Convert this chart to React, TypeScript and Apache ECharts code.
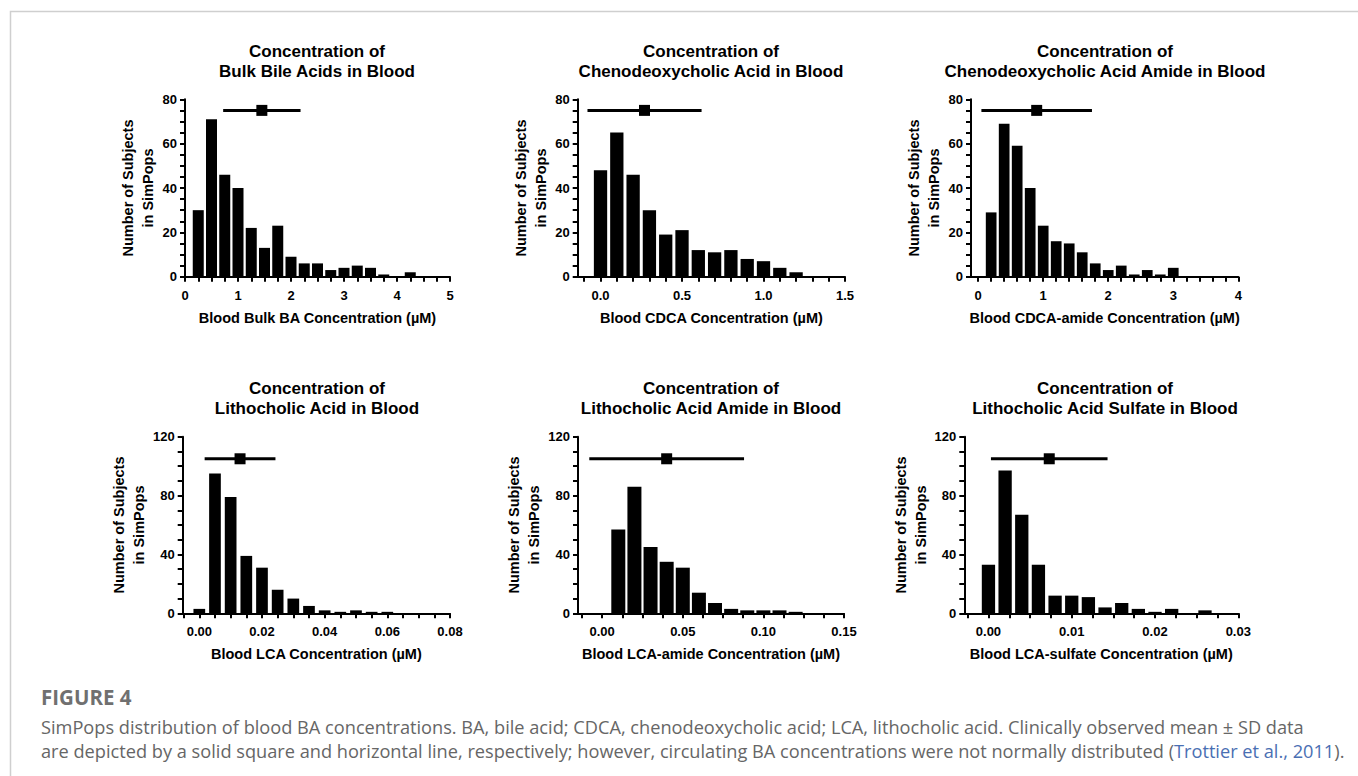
import React, { useEffect, useRef } from "react";
import * as echarts from "echarts";

// ---------- Data ----------
const TITLES = [
  "Concentration of\nBulk Bile Acids in Blood",
  "Concentration of\nChenodeoxycholic Acid in Blood",
  "Concentration of\nChenodeoxycholic Acid Amide in Blood",
  "Concentration of\nLithocholic Acid in Blood",
  "Concentration of\nLithocholic Acid Amide in Blood",
  "Concentration of\nLithocholic Acid Sulfate in Blood",
];
const X_NAMES = [
  "Blood Bulk BA Concentration (µM)",
  "Blood CDCA Concentration (µM)",
  "Blood CDCA-amide Concentration (µM)",
  "Blood LCA Concentration (µM)",
  "Blood LCA-amide Concentration (µM)",
  "Blood LCA-sulfate Concentration (µM)",
];
const Y_NAME = "Number of Subjects\nin SimPops";

const P1_BINS = [0.25, 0.5, 0.75, 1, 1.25, 1.5, 1.75, 2, 2.25, 2.5, 2.75, 3, 3.25, 3.5, 3.75, 4, 4.25];
const P1_COUNTS = [30, 71, 46, 40, 22, 13, 23, 9, 6, 6, 3, 4, 5, 4, 1, 0, 2];

const P2_BINS = [0, 0.1, 0.2, 0.3, 0.4, 0.5, 0.6, 0.7, 0.8, 0.9, 1.0, 1.1, 1.2];
const P2_COUNTS = [48, 65, 46, 30, 19, 21, 12, 11, 12, 8, 7, 4, 2];

const P3_BINS = [0.2, 0.4, 0.6, 0.8, 1.0, 1.2, 1.4, 1.6, 1.8, 2.0, 2.2, 2.4, 2.6, 2.8, 3.0];
const P3_COUNTS = [29, 69, 59, 40, 23, 16, 15, 11, 6, 3, 5, 1, 3, 1, 4];

const P4_BINS = [0, 0.005, 0.01, 0.015, 0.02, 0.025, 0.03, 0.035, 0.04, 0.045, 0.05, 0.055, 0.06];
const P4_COUNTS = [3, 95, 79, 39, 31, 16, 10, 5, 2, 1, 2, 1, 1];

const P5_BINS = [0.01, 0.02, 0.03, 0.04, 0.05, 0.06, 0.07, 0.08, 0.09, 0.1, 0.11, 0.12];
const P5_COUNTS = [57, 86, 45, 35, 31, 14, 7, 3, 2, 2, 2, 1];

const P6_BINS = [0, 0.002, 0.004, 0.006, 0.008, 0.01, 0.012, 0.014, 0.016, 0.018, 0.02, 0.022, 0.024, 0.026];
const P6_COUNTS = [33, 97, 67, 33, 12, 12, 11, 4, 7, 3, 1, 3, 0, 2];

// clinically observed mean ± SD
const MEANS = [1.45, 0.27, 0.9, 0.013, 0.04, 0.0073];
const SDS = [0.73, 0.35, 0.85, 0.0113, 0.048, 0.007];
const MARKER_Y = [75, 75, 75, 105, 105, 105];

// axes
const X_TICK_LABELS = [
  [0, 1, 2, 3, 4, 5],
  [0, 0.5, 1.0, 1.5],
  [0, 1, 2, 3, 4],
  [0, 0.02, 0.04, 0.06, 0.08],
  [0, 0.05, 0.1, 0.15],
  [0, 0.01, 0.02, 0.03],
];
const X_DECIMALS = [0, 1, 0, 2, 2, 2];
const X_MIN = [0, -0.14, -0.11, -0.0053, -0.015, -0.0029];
const X_MAX = [5, 1.5, 4, 0.08, 0.15, 0.03];
const X_MINOR_STEP = [0.25, 0.1, 0.2, 0.005, 0.0125, 0.0025];
const Y_MAX = [80, 80, 80, 120, 120, 120];
const Y_INTERVAL = [20, 20, 20, 40, 40, 40];

const CAPTION_HEAD = "FIGURE 4";
const CAPTION_LINE1 =
  "SimPops distribution of blood BA concentrations. BA, bile acid; CDCA, chenodeoxycholic acid; LCA, lithocholic acid. Clinically observed mean ± SD data";
const CAPTION_LINE2 =
  "are depicted by a solid square and horizontal line, respectively; however, circulating BA concentrations were not normally distributed ({link|Trottier et al., 2011}).";

// ---------- Layout ----------
const GRIDS = [
  { left: 185, top: 99.3, width: 265, height: 177.4 },
  { left: 577.7, top: 99.3, width: 267.3, height: 177.4 },
  { left: 971, top: 99.3, width: 267.3, height: 177.4 },
  { left: 182.7, top: 436.7, width: 267.3, height: 176.6 },
  { left: 578, top: 436.7, width: 266, height: 176.6 },
  { left: 964.3, top: 436.7, width: 274, height: 176.6 },
];
const TITLE_POS = [
  [317, 61.5],
  [711, 61.5],
  [1105, 61.5],
  [317, 398],
  [711, 398],
  [1105, 398],
];
const BAR_W = [11, 13.3, 10.7, 11.7, 14, 13.3];

const FONT = '"Liberation Sans", Arial, Helvetica, sans-serif';
const CAP_FONT = '"Open Sans", Lato, sans-serif';

const BINS = [P1_BINS, P2_BINS, P3_BINS, P4_BINS, P5_BINS, P6_BINS];
const COUNTS = [P1_COUNTS, P2_COUNTS, P3_COUNTS, P4_COUNTS, P5_COUNTS, P6_COUNTS];

function tickValues(min: number, max: number, step: number): number[] {
  const out: number[] = [];
  const k0 = Math.ceil(min / step - 1e-9);
  const k1 = Math.floor(max / step + 1e-9);
  for (let k = k0; k <= k1; k++) out.push(Math.round(k * step * 1e6) / 1e6);
  return out;
}

export default function App() {
  const ref = useRef<HTMLDivElement>(null);

  useEffect(() => {
    document.body.style.margin = "0";
    if (!ref.current) return;
    const chart = echarts.init(ref.current, undefined, { renderer: "svg" });

    const axisLineStyle = { color: "#000", width: 2 };
    const labelStyle = { color: "#000", fontSize: 13, fontWeight: "bold" as const, fontFamily: FONT };
    const nameStyle = { color: "#000", fontSize: 14.5, fontWeight: "bold" as const, fontFamily: FONT, lineHeight: 20 };

    const xAxis = GRIDS.map((_, i) => ({
      type: "value",
      gridIndex: i,
      min: X_MIN[i],
      max: X_MAX[i],
      axisLine: { show: true, onZero: false, lineStyle: axisLineStyle },
      axisTick: {
        show: true,
        length: 5,
        customValues: tickValues(X_MIN[i], X_MAX[i], X_MINOR_STEP[i]),
        lineStyle: axisLineStyle,
      },
      axisLabel: {
        ...labelStyle,
        margin: 12,
        customValues: X_TICK_LABELS[i],
        formatter: (v: number) => Number(v).toFixed(X_DECIMALS[i]),
      },
      splitLine: { show: false },
      name: X_NAMES[i],
      nameLocation: "middle",
      nameGap: 31,
      nameTextStyle: nameStyle,
    }));

    const yAxis = GRIDS.map((_, i) => ({
      type: "value",
      gridIndex: i,
      min: 0,
      max: Y_MAX[i],
      interval: Y_INTERVAL[i],
      axisLine: { show: true, onZero: false, lineStyle: axisLineStyle },
      axisTick: { show: true, length: 5, lineStyle: axisLineStyle },
      minorTick: { show: true, splitNumber: 4, length: 5, lineStyle: axisLineStyle },
      axisLabel: { ...labelStyle, margin: 8 },
      splitLine: { show: false },
      minorSplitLine: { show: false },
      name: Y_NAME,
      nameLocation: "middle",
      nameGap: 27,
      nameTextStyle: nameStyle,
    }));

    const series: any[] = [];
    GRIDS.forEach((_, i) => {
      series.push({
        type: "bar",
        xAxisIndex: i,
        yAxisIndex: i,
        data: BINS[i].map((b, j) => [b, COUNTS[i][j]]),
        barWidth: BAR_W[i],
        itemStyle: { color: "#000" },
        silent: true,
      });
      series.push({
        type: "line",
        xAxisIndex: i,
        yAxisIndex: i,
        data: [
          [MEANS[i] - SDS[i], MARKER_Y[i]],
          [MEANS[i] + SDS[i], MARKER_Y[i]],
        ],
        symbol: "none",
        lineStyle: { color: "#000", width: 3 },
        z: 3,
        silent: true,
      });
      series.push({
        type: "scatter",
        xAxisIndex: i,
        yAxisIndex: i,
        data: [[MEANS[i], MARKER_Y[i]]],
        symbol: "rect",
        symbolSize: 11,
        itemStyle: { color: "#000", opacity: 1 },
        z: 4,
        silent: true,
      });
    });

    const graphic: any[] = [
      {
        type: "rect",
        shape: { x: 10.5, y: 11.5, width: 1400, height: 800 },
        style: { fill: "none", stroke: "#cfcfcf", lineWidth: 1.5 },
        silent: true,
      },
    ];
    TITLES.forEach((t, i) => {
      graphic.push({
        type: "text",
        x: TITLE_POS[i][0],
        y: TITLE_POS[i][1],
        style: {
          text: t,
          fontSize: 17,
          fontWeight: "bold",
          fontFamily: FONT,
          lineHeight: 20,
          fill: "#000",
          align: "center",
          textAlign: "center",
          verticalAlign: "middle",
          textVerticalAlign: "middle",
        },
      });
    });
    graphic.push({
      type: "text",
      x: 41,
      y: 697,
      style: {
        text: CAPTION_HEAD,
        fontSize: 20.5,
        fontWeight: "bold",
        fontFamily: CAP_FONT,
        fill: "#707070",
        align: "left",
        textAlign: "left",
        verticalAlign: "middle",
        textVerticalAlign: "middle",
      },
    });
    graphic.push({
      type: "text",
      x: 41,
      y: 727,
      style: {
        text: CAPTION_LINE1,
        fontSize: 18.2,
        fontFamily: CAP_FONT,
        fill: "#666",
        align: "left",
        textAlign: "left",
        verticalAlign: "middle",
        textVerticalAlign: "middle",
      },
    });
    graphic.push({
      type: "text",
      x: 41,
      y: 751,
      style: {
        text: CAPTION_LINE2,
        fontSize: 18.2,
        fontFamily: CAP_FONT,
        fill: "#666",
        align: "left",
        textAlign: "left",
        verticalAlign: "middle",
        textVerticalAlign: "middle",
        rich: {
          link: { fill: "#4a6fb3", fontSize: 18.2, fontFamily: CAP_FONT },
        },
      },
    });

    chart.setOption({
      animation: false,
      grid: GRIDS.map((g) => ({ ...g, containLabel: false })),
      xAxis,
      yAxis,
      series,
      graphic,
    });

    return () => chart.dispose();
  }, []);

  return <div ref={ref} style={{ width: 1358, height: 776 }} />;
}
